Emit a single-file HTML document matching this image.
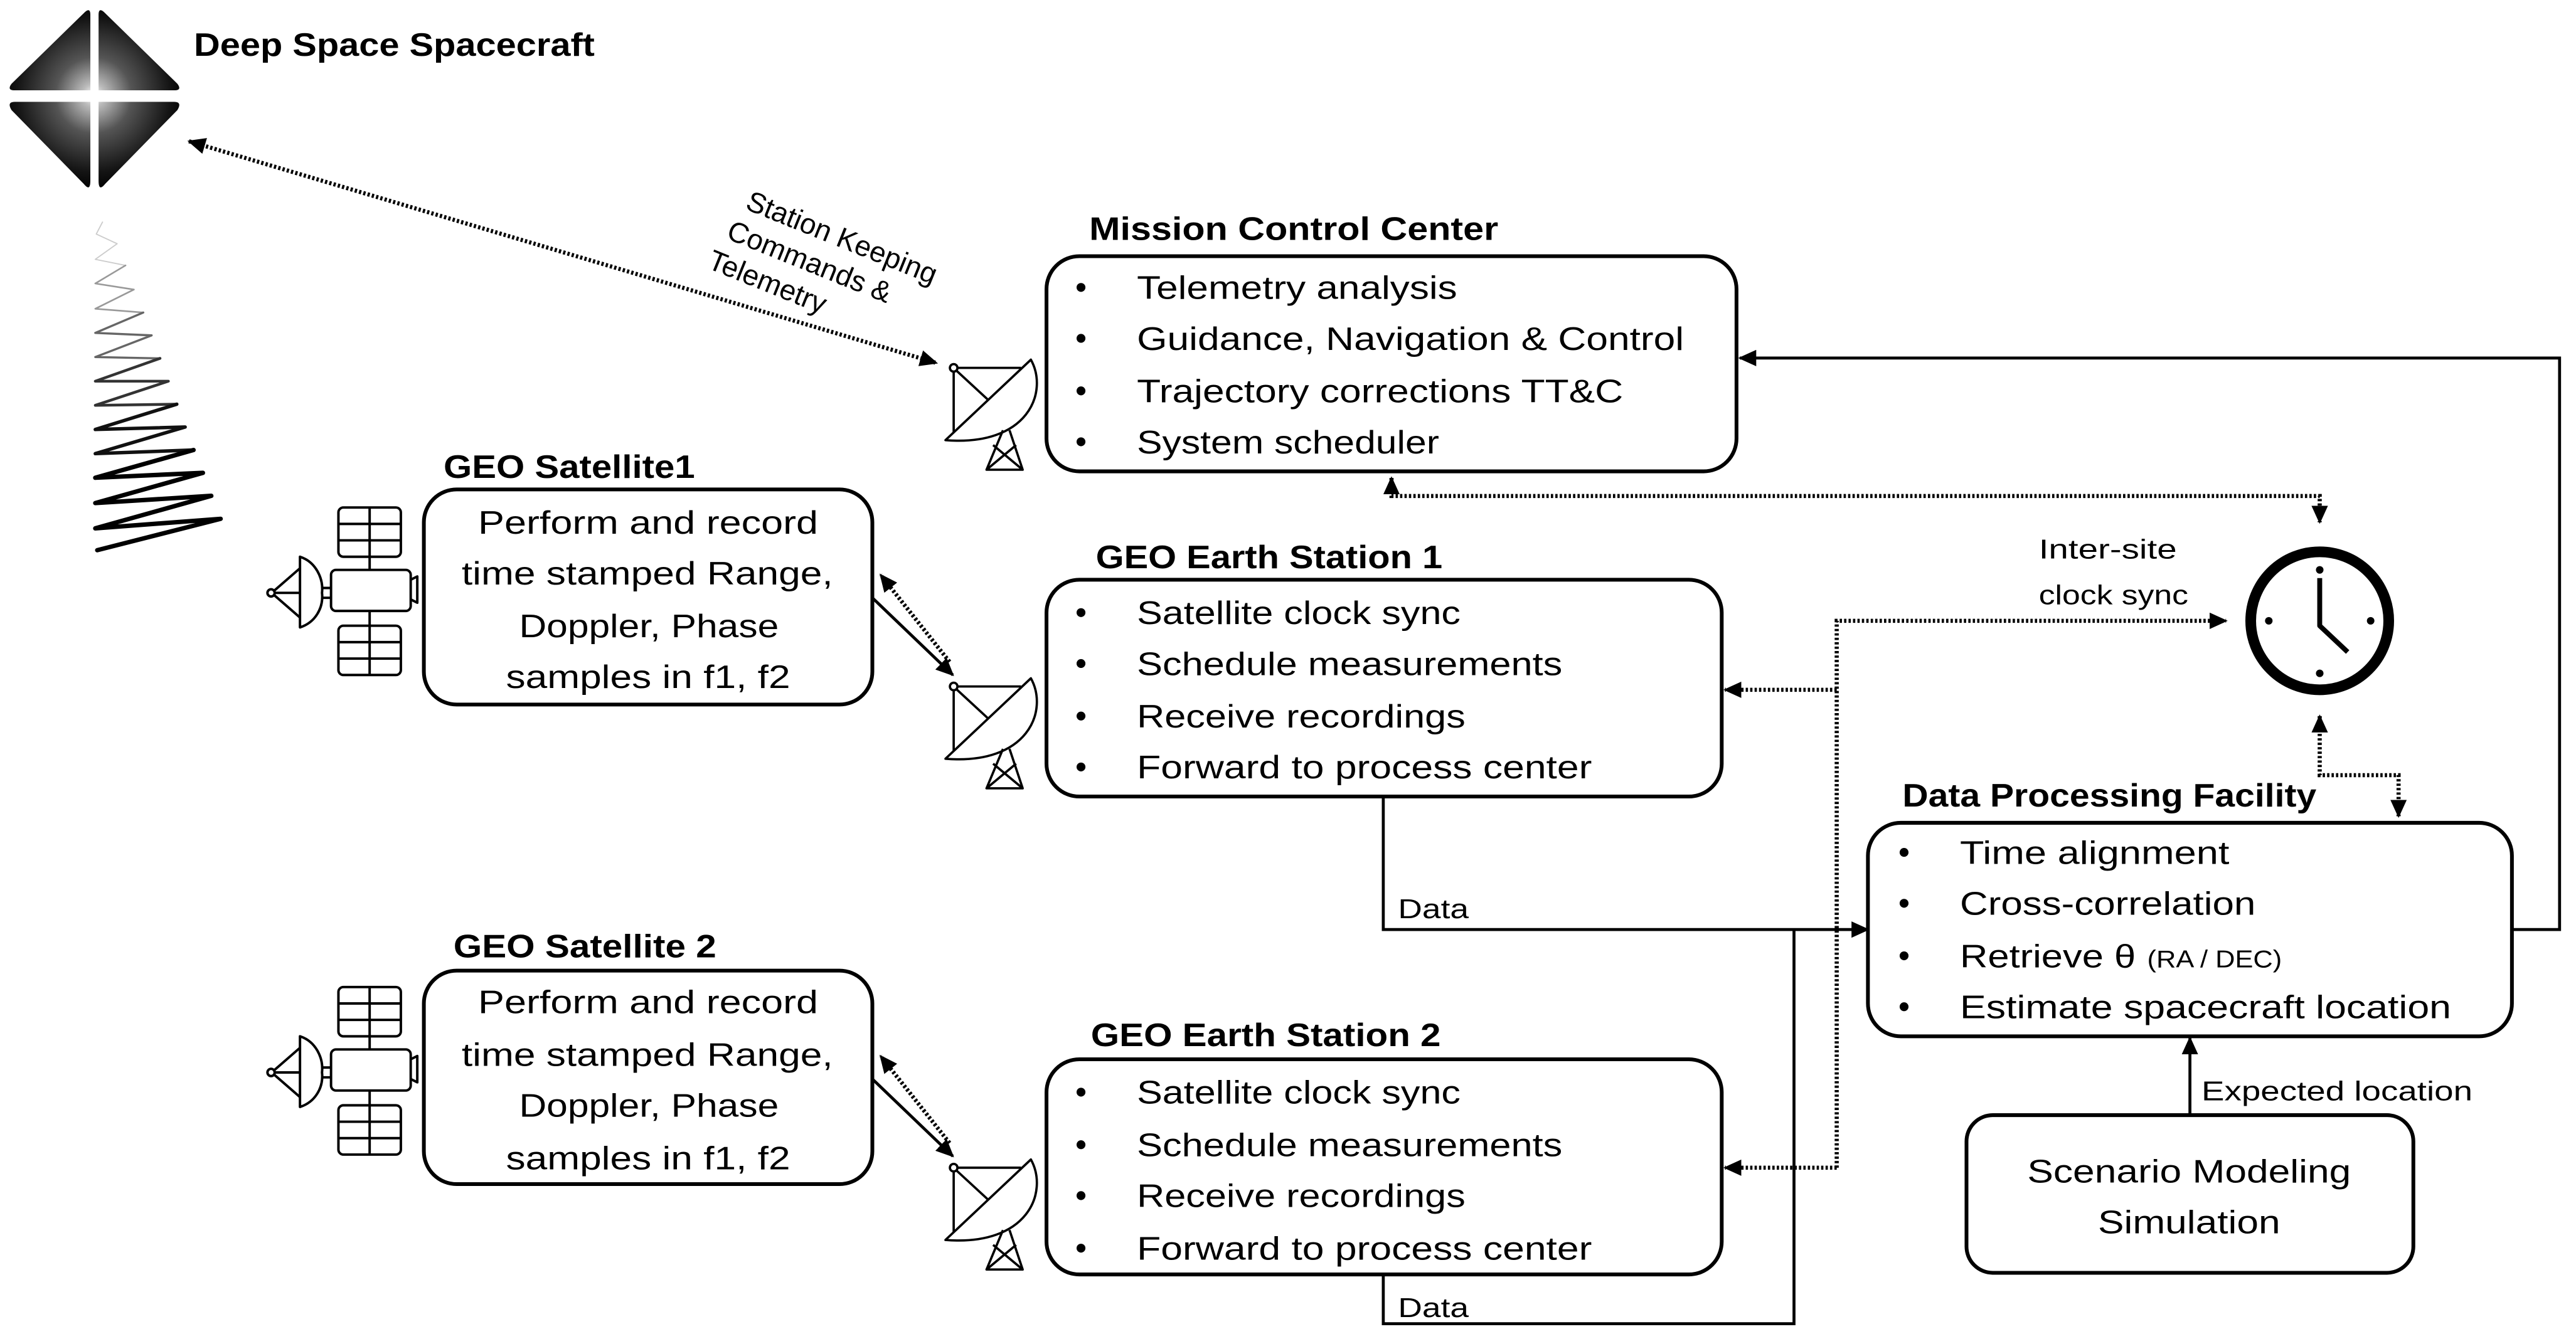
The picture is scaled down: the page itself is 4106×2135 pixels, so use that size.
<!DOCTYPE html>
<html><head><meta charset="utf-8"><style>html,body{margin:0;padding:0;background:#fff}svg{display:block}</style></head>
<body>
<svg xmlns="http://www.w3.org/2000/svg" width="4106" height="2135" viewBox="0 0 1568 815.3" font-family="'Liberation Sans', sans-serif">
<defs>
<marker id="ah" markerUnits="userSpaceOnUse" markerWidth="12" markerHeight="10" refX="10" refY="5" orient="auto-start-reverse"><path d="M0,0 L11,5 L0,10 Z" fill="#000"/></marker>
<radialGradient id="sg" gradientUnits="userSpaceOnUse" cx="57" cy="58" r="58"><stop offset="0" stop-color="#fff"/><stop offset="0.12" stop-color="#bbb"/><stop offset="0.4" stop-color="#555"/><stop offset="0.8" stop-color="#151515"/><stop offset="1" stop-color="#000"/></radialGradient>
<g id="dish" fill="none" stroke="#000" stroke-width="1.4" stroke-linejoin="round">
<path d="M2,0 L41,0 M0,2 L0,39 M1.5,1.5 L21,19.5"/>
<circle cx="0" cy="0" r="2.3" fill="#fff"/>
<path d="M-5,44 L47,-5 C58,15 45,48 -5,44 Z" fill="none"/>
<path d="M30,38 L20,62 L42,62 L34,38 M20,62 L38,47 M42,62 L24,47 M20,62 L42,62"/>
</g>
<g id="sat" fill="none" stroke="#000" stroke-width="1.5" stroke-linejoin="round">
<rect x="206" y="309" width="38" height="30" rx="3"/>
<path d="M225,309 V347 M206,319 H244 M206,329 H244"/>
<rect x="206" y="381" width="38" height="30" rx="3"/>
<path d="M225,372 V411 M206,391 H244 M206,401 H244"/>
<rect x="201.5" y="347" width="48.5" height="25" rx="3" fill="#fff"/>
<path d="M250,353 L254,351 L254,367 L250,365"/>
<path d="M195,358 H201.5 M195,364 H201.5"/>
<path d="M182.6,339 C192,342 197,352 196,361 C197,370 192,379 182.6,382 Z" fill="#fff"/>
<path d="M166.5,360 L182.6,346 M166.5,361 H182.6 M166.5,362 L182.6,376"/>
<circle cx="165" cy="361" r="2.2" fill="#fff"/>
</g>
</defs>

<g fill="url(#sg)">
<path d="M55,9 L55,55 L9,55 Q4,55 7,51 L51,8 Q55,4 55,9 Z"/>
<path d="M60,9 L60,55 L106,55 Q111,55 108,51 L64,8 Q60,4 60,9 Z"/>
<path d="M55,62 L55,110 Q55,117 51,112 L7,67 Q4,62 9,62 Z"/>
<path d="M60,62 L60,110 Q60,117 64,112 L108,67 Q111,62 106,62 Z"/>
</g>
<text x="118" y="34" font-size="20" font-weight="bold" textLength="244" lengthAdjust="spacingAndGlyphs">Deep Space Spacecraft</text>

<g fill="none" stroke-linecap="round" stroke-linejoin="round">
<polyline points="62.4,135.2 58.6,142.5 71.3,148.4 58,157.9 76.4,161.6" stroke="#ccc" stroke-width="0.7"/>
<polyline points="76.4,161.6 58,172.6 81.5,176.3 58,188 87.2,190.3" stroke="#999" stroke-width="1"/>
<polyline points="87.2,190.3 58,202.7 92.3,204.2 58,217.4 97.4,218.2" stroke="#666" stroke-width="1.3"/>
<polyline points="97.4,218.2 58,232.1 102.5,232.1 58,246.8 107.6,246.1" stroke="#333" stroke-width="1.7"/>
<polyline points="107.6,246.1 58,261.5 112.7,260 58,276.2 117.8,274" stroke="#111" stroke-width="2.1"/>
<polyline points="117.8,274 58,290.9 123.5,287.9 58,306.3 128.6,301.9 58,321.7 134.3,315.9 59.2,335" stroke="#000" stroke-width="2.7"/>
</g>

<g fill="none" stroke="#000" stroke-width="2.5" stroke-dasharray="1.4 1.3">
<line x1="115" y1="86" x2="570" y2="221" marker-start="url(#ah)" marker-end="url(#ah)"/>
<polyline points="847,291 847,302 1412,302 1412,318" marker-start="url(#ah)" marker-end="url(#ah)"/>
<polyline points="1412,436 1412,472 1460,472 1460,497" marker-start="url(#ah)" marker-end="url(#ah)"/>
<polyline points="1118,711 1118,378 1355,378" marker-end="url(#ah)"/>
<line x1="1118" y1="420" x2="1050" y2="420" marker-end="url(#ah)"/>
<line x1="1118" y1="711" x2="1050" y2="711" marker-end="url(#ah)"/>
<line x1="578" y1="403" x2="536" y2="350" marker-end="url(#ah)"/>
<line x1="578" y1="696" x2="536" y2="643" marker-end="url(#ah)"/>
</g>
<g fill="none" stroke="#000" stroke-width="1.8">
<line x1="531" y1="364" x2="580" y2="411" marker-end="url(#ah)"/>
<line x1="531" y1="657" x2="580" y2="704" marker-end="url(#ah)"/>
<polyline points="842,485 842,566 1137,566" marker-end="url(#ah)"/>
<polyline points="842,776 842,806 1092,806 1092,566"/>
<polyline points="1529,566 1558,566 1558,218 1059,218" marker-end="url(#ah)"/>
<line x1="1333" y1="679" x2="1333" y2="632" marker-end="url(#ah)"/>
</g>

<g transform="translate(453,127) rotate(22)" font-size="17.5">
<text x="0" y="0">Station Keeping</text>
<text x="-4" y="21">Commands &amp;</text>
<text x="-8" y="42">Telemetry</text>
</g>

<use href="#dish" x="580.5" y="224"/>
<use href="#dish" x="580.5" y="418"/>
<use href="#dish" x="580.5" y="711"/>
<use href="#sat"/>
<use href="#sat" y="292"/>

<g fill="none" stroke="#000" stroke-width="2.3">
<rect x="637" y="156" width="420" height="131" rx="20"/>
<rect x="258" y="298" width="273" height="131" rx="20"/>
<rect x="637" y="353" width="411" height="132" rx="20"/>
<rect x="258" y="591" width="273" height="130" rx="20"/>
<rect x="637" y="645" width="411" height="131" rx="20"/>
<rect x="1137" y="501" width="392" height="130" rx="20"/>
<rect x="1197" y="679" width="272" height="96" rx="16"/>
</g>

<g font-size="20" font-weight="bold">
<text x="663" y="146" textLength="249" lengthAdjust="spacingAndGlyphs">Mission Control Center</text>
<text x="270" y="291" textLength="153" lengthAdjust="spacingAndGlyphs">GEO Satellite1</text>
<text x="667" y="346" textLength="211" lengthAdjust="spacingAndGlyphs">GEO Earth Station 1</text>
<text x="276" y="583" textLength="160" lengthAdjust="spacingAndGlyphs">GEO Satellite 2</text>
<text x="664" y="637" textLength="213" lengthAdjust="spacingAndGlyphs">GEO Earth Station 2</text>
<text x="1158" y="491" textLength="252" lengthAdjust="spacingAndGlyphs">Data Processing Facility</text>
</g>

<g fill="#000">
<circle cx="658" cy="175" r="2.7"/><circle cx="658" cy="206" r="2.7"/><circle cx="658" cy="238" r="2.7"/><circle cx="658" cy="269" r="2.7"/>
<circle cx="658" cy="373" r="2.7"/><circle cx="658" cy="404" r="2.7"/><circle cx="658" cy="436" r="2.7"/><circle cx="658" cy="467" r="2.7"/>
<circle cx="658" cy="665" r="2.7"/><circle cx="658" cy="697" r="2.7"/><circle cx="658" cy="728" r="2.7"/><circle cx="658" cy="760" r="2.7"/>
<circle cx="1159" cy="519" r="2.7"/><circle cx="1159" cy="550" r="2.7"/><circle cx="1159" cy="582" r="2.7"/><circle cx="1159" cy="613" r="2.7"/>
</g>

<g font-size="20">
<text x="692" y="182" textLength="195" lengthAdjust="spacingAndGlyphs">Telemetry analysis</text>
<text x="692" y="213" textLength="333" lengthAdjust="spacingAndGlyphs">Guidance, Navigation &amp; Control</text>
<text x="692" y="245" textLength="296" lengthAdjust="spacingAndGlyphs">Trajectory corrections TT&amp;C</text>
<text x="692" y="276" textLength="184" lengthAdjust="spacingAndGlyphs">System scheduler</text>

<text x="291" y="325" textLength="207" lengthAdjust="spacingAndGlyphs">Perform and record</text>
<text x="281" y="356" textLength="226" lengthAdjust="spacingAndGlyphs">time stamped Range,</text>
<text x="316" y="388" textLength="158" lengthAdjust="spacingAndGlyphs">Doppler, Phase</text>
<text x="308" y="419" textLength="173" lengthAdjust="spacingAndGlyphs">samples in f1, f2</text>

<text x="291" y="617" textLength="207" lengthAdjust="spacingAndGlyphs">Perform and record</text>
<text x="281" y="649" textLength="226" lengthAdjust="spacingAndGlyphs">time stamped Range,</text>
<text x="316" y="680" textLength="158" lengthAdjust="spacingAndGlyphs">Doppler, Phase</text>
<text x="308" y="712" textLength="173" lengthAdjust="spacingAndGlyphs">samples in f1, f2</text>

<text x="692" y="380" textLength="197" lengthAdjust="spacingAndGlyphs">Satellite clock sync</text>
<text x="692" y="411" textLength="259" lengthAdjust="spacingAndGlyphs">Schedule measurements</text>
<text x="692" y="443" textLength="200" lengthAdjust="spacingAndGlyphs">Receive recordings</text>
<text x="692" y="474" textLength="277" lengthAdjust="spacingAndGlyphs">Forward to process center</text>

<text x="692" y="672" textLength="197" lengthAdjust="spacingAndGlyphs">Satellite clock sync</text>
<text x="692" y="704" textLength="259" lengthAdjust="spacingAndGlyphs">Schedule measurements</text>
<text x="692" y="735" textLength="200" lengthAdjust="spacingAndGlyphs">Receive recordings</text>
<text x="692" y="767" textLength="277" lengthAdjust="spacingAndGlyphs">Forward to process center</text>

<text x="1193" y="526" textLength="164" lengthAdjust="spacingAndGlyphs">Time alignment</text>
<text x="1193" y="557" textLength="180" lengthAdjust="spacingAndGlyphs">Cross-correlation</text>
<text x="1193" y="589" textLength="107" lengthAdjust="spacingAndGlyphs">Retrieve θ</text>
<text x="1307" y="589" font-size="15" textLength="82" lengthAdjust="spacingAndGlyphs">(RA / DEC)</text>
<text x="1193" y="620" textLength="299" lengthAdjust="spacingAndGlyphs">Estimate spacecraft location</text>

<text x="1234" y="720" textLength="197" lengthAdjust="spacingAndGlyphs">Scenario Modeling</text>
<text x="1277" y="751" textLength="111" lengthAdjust="spacingAndGlyphs">Simulation</text>
</g>

<g font-size="16.5">
<text x="1340" y="670" textLength="165" lengthAdjust="spacingAndGlyphs">Expected location</text>
<text x="1241" y="340" textLength="84" lengthAdjust="spacingAndGlyphs">Inter-site</text>
<text x="1241" y="368" textLength="91" lengthAdjust="spacingAndGlyphs">clock sync</text>
<text x="851" y="559" textLength="43" lengthAdjust="spacingAndGlyphs">Data</text>
<text x="851" y="802" textLength="43" lengthAdjust="spacingAndGlyphs">Data</text>
</g>

<circle cx="1412" cy="378" r="42" fill="none" stroke="#000" stroke-width="6.5"/>
<g fill="#000"><circle cx="1412" cy="347" r="2.3"/><circle cx="1412" cy="410" r="2.3"/><circle cx="1381" cy="378" r="2.3"/><circle cx="1443" cy="378" r="2.3"/></g>
<path d="M1412,352 L1412,381 L1429,397" fill="none" stroke="#000" stroke-width="3" stroke-linejoin="round"/>
</svg>
</body></html>
